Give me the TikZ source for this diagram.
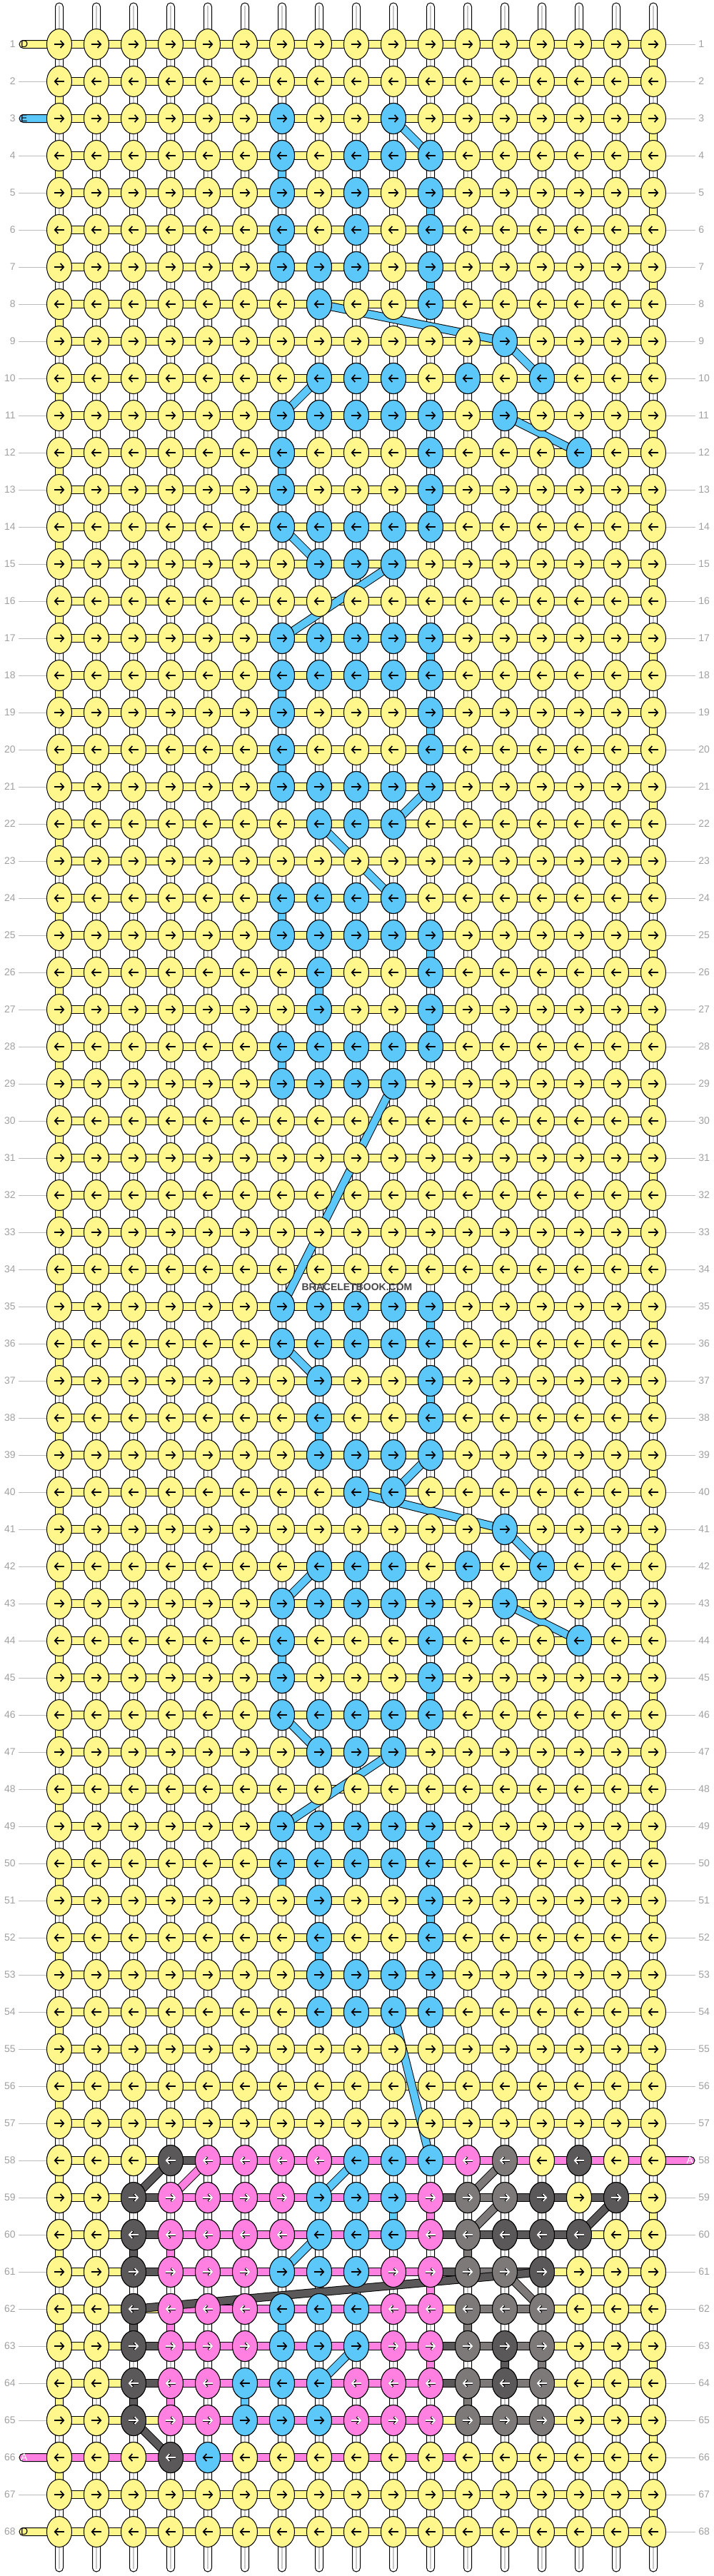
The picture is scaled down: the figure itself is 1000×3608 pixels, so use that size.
\documentclass[tikz,border=0pt]{standalone}
\usepackage{fontspec}
\setmainfont{Liberation Sans}
\usetikzlibrary{arrows.meta,shapes.geometric}

\definecolor{yarnY}{HTML}{FFF78C}
\definecolor{yarnB}{HTML}{5CC8FA}
\definecolor{yarnP}{HTML}{FF80E0}
\definecolor{yarnK}{HTML}{5A5858}
\definecolor{yarnG}{HTML}{7E7979}
\definecolor{lblgrey}{HTML}{A0A0A0}

\tikzset{
  knot/.style={ellipse, draw=black, line width=0.5pt, minimum width=17.5pt, minimum height=21.5pt, inner sep=0pt},
  wtube/.style={draw=black, fill=white, line width=0.5pt, rounded corners=2.7pt},
  wcore/.style={draw=black!22, line width=1.2pt, shorten <=2pt, shorten >=2pt},
  hbar/.style={draw=black, line width=0.5pt},
  vlink/.style={draw=black, line width=0.5pt},
  strand/.style={draw=#1, line width=5pt, preaction={draw=black, line width=6pt}},
  arrowtip/.style={line width=0.85pt, -{Straight Barb[length=2.3pt, width=5pt]}},
  tipY/.style={draw=black}, tipB/.style={draw=black},
  tipP/.style={draw=white, preaction={draw=black, line width=1.5pt}},
  tipK/.style={tipP}, tipG/.style={tipP},
  rowlbl/.style={font=\fontsize{7pt}{8pt}\selectfont, text=lblgrey, inner sep=0pt},
  lblline/.style={draw=lblgrey!70, line width=0.5pt},
  stubtxt/.style={font=\fontsize{7pt}{8pt}\selectfont, inner sep=0pt},
}

% one knot: row, column, yarn
\newcommand\knotat[3]{%
  \node[knot, fill=yarn#3] (k-#1-#2) at (p-#1-#2) {};
  \ifodd#1\relax
    \draw[arrowtip, tip#3] ([xshift=-3.7pt]k-#1-#2.center) -- ([xshift=3.7pt]k-#1-#2.center);
  \else
    \draw[arrowtip, tip#3] ([xshift=3.7pt]k-#1-#2.center) -- ([xshift=-3.7pt]k-#1-#2.center);
  \fi}

\begin{document}
\begin{tikzpicture}[x=0.5pt, y=-0.5pt]
\useasboundingbox (0,0) rectangle (1000,3608);

% grid of knot places
\foreach \r in {1,...,68}{
  \foreach \c in {1,...,17}{
    \coordinate (p-\r-\c) at ({31+52*\c},{10+52*\r});
  }
}

% row numbers
\foreach \r in {1,...,68}{
  \node[rowlbl, anchor=east] (ll-\r) at (22,{10+52*\r}) {\r};
  \node[rowlbl, anchor=west] (rl-\r) at (978,{10+52*\r}) {\r};
}
\foreach \r in {2,4,5,...,65,67}
  \draw[lblline] ([xshift=2pt]ll-\r.east) -- (p-\r-1);
\foreach \r in {1,...,57,59,60,...,68}
  \draw[lblline] (p-\r-17) -- ([xshift=-2pt]rl-\r.west);

% base strings
\foreach \c in {1,...,17}{
  \coordinate (top-\c) at ({31+52*\c},4);
  \coordinate (bot-\c) at ({31+52*\c},3602);
  \draw[wtube] ([xshift=-2.75pt]top-\c) rectangle ([xshift=2.75pt]bot-\c);
  \draw[wcore] (top-\c) -- (bot-\c);
}

% working string, row by row
\foreach \r in {1,...,68}
  \draw[hbar, fill=yarnY] ([yshift=2.75pt]p-\r-1) rectangle ([yshift=-2.75pt]p-\r-17);
\foreach \r/\a/\b/\k in {58/4/5/K, 58/5/17/P,
    59/3/4/K, 59/4/11/P, 59/11/12/K, 59/12/13/G, 59/13/16/K,
    60/3/4/K, 60/4/11/P, 60/11/15/K,
    61/3/4/K, 61/4/11/P, 61/11/12/K, 61/12/13/G, 61/13/14/K,
    62/4/11/P, 62/12/14/G,
    63/3/4/K, 63/4/11/P, 63/11/12/K, 63/12/14/G,
    64/3/4/K, 64/4/11/P, 64/11/12/K, 64/12/14/G,
    65/4/11/P, 65/12/14/G,
    66/1/12/P}
  \draw[hbar, fill=yarn\k] ([yshift=2.75pt]p-\r-\a) rectangle ([yshift=-2.75pt]p-\r-\b);

% turns at the edges
\foreach \r [evaluate=\r as \rn using int(\r+1)] in {2,4,...,66}
  \draw[vlink, fill=yarnY] ([xshift=-2.75pt]p-\r-1) rectangle ([xshift=2.75pt]p-\rn-1);
\foreach \r [evaluate=\r as \rn using int(\r+1)] in {1,3,...,67}
  \draw[vlink, fill=yarnY] ([xshift=-2.75pt]p-\r-17) rectangle ([xshift=2.75pt]p-\rn-17);

% carried strings going down
\foreach \r/\c/\k [evaluate=\r as \rn using int(\r+1)] in {4/7/B, 5/11/B, 6/7/B, 7/11/B,
    12/7/B, 13/11/B, 17/11/B, 18/7/B, 19/11/B, 20/7/B, 24/7/B, 25/11/B, 26/8/B,
    27/11/B, 28/7/B, 35/11/B, 37/11/B, 38/8/B, 44/7/B, 45/11/B,
    49/11/B, 50/7/B, 51/11/B, 52/8/B,
    59/10/B, 59/11/P, 60/3/K, 60/4/P, 60/12/G, 61/11/P, 62/3/K, 62/4/P, 62/7/B,
    62/12/G, 63/11/P, 63/13/K, 63/14/G, 64/3/K, 64/4/P, 64/6/B, 64/12/G}
  \draw[vlink, fill=yarn\k] ([xshift=-2.75pt]p-\r-\c) rectangle ([xshift=2.75pt]p-\rn-\c);

% loose ends
\foreach \r/\k/\name/\ink in {1/Y/D/black, 3/B/E/black, 66/P/A/white, 68/Y/D/black}{
  \coordinate (in-\r) at (27,{10+52*\r});
  \draw[hbar, fill=yarn\k, rounded corners=2.75pt] ([yshift=2.75pt]in-\r) rectangle ([yshift=-2.75pt]p-\r-1);
  \node[stubtxt, text=\ink, anchor=west] at ([xshift=0.8pt]in-\r) {\name};
}
\coordinate (out-58) at (973,3026);
\draw[hbar, fill=yarnP, rounded corners=2.75pt] ([yshift=2.75pt]p-58-17) rectangle ([yshift=-2.75pt]out-58);
\node[stubtxt, text=white, anchor=east] at ([xshift=-0.8pt]out-58) {A};

% strings jumping between knots
\foreach \a/\b/\k in {3-10/4-11/B, 8-8/9-13/B, 9-13/10-14/B, 10-8/11-7/B, 11-13/12-15/B,
    14-7/15-8/B, 15-10/17-7/B, 21-11/22-10/B, 22-8/24-10/B, 29-10/35-7/B, 36-7/37-8/B,
    39-11/40-10/B, 40-9/41-13/B, 41-13/42-14/B, 42-8/43-7/B, 43-13/44-15/B, 46-7/47-8/B,
    47-10/49-7/B, 54-10/58-11/B, 58-9/59-8/B, 60-8/61-7/B, 63-9/64-8/B,
    58-4/59-3/K, 59-16/60-15/K, 61-14/62-3/K, 65-3/66-4/K,
    58-5/59-4/P, 58-13/59-12/G, 59-13/60-12/G, 61-13/62-14/G}
  \draw[strand=yarn\k] (p-\a) -- (p-\b);

% knots
\foreach \r in {1,...,68}
  \foreach \c in {1,...,17}
    \knotat{\r}{\c}{Y};
\foreach \r/\cs in {3/{7,10}, 4/{7,9,10,11}, 5/{7,9,11}, 6/{7,9,11}, 7/{7,8,9,11},
    8/{8,11}, 9/{13}, 10/{8,9,10,12,14}, 11/{7,8,9,10,11,13}, 12/{7,11,15}, 13/{7,11},
    14/{7,...,11}, 15/{8,9,10}, 17/{7,...,11}, 18/{7,...,11}, 19/{7,11}, 20/{7,11},
    21/{7,...,11}, 22/{8,9,10}, 24/{7,...,10}, 25/{7,...,11}, 26/{8,11}, 27/{8,11},
    28/{7,...,11}, 29/{7,...,10}, 35/{7,...,11}, 36/{7,...,11}, 37/{8,11}, 38/{8,11},
    39/{8,...,11}, 40/{9,10}, 41/{13}, 42/{8,9,10,12,14}, 43/{7,8,9,10,11,13},
    44/{7,11,15}, 45/{7,11}, 46/{7,...,11}, 47/{8,9,10}, 49/{7,...,11}, 50/{7,...,11},
    51/{8,11}, 52/{8,11}, 53/{8,...,11}, 54/{8,...,11}}
  \foreach \c in \cs
    \knotat{\r}{\c}{B};
\foreach \r/\row in {
    58/{Y,Y,Y,K,P,P,P,P,B,B,B,P,G,Y,K,Y,Y},
    59/{Y,Y,K,P,P,P,P,B,B,B,P,G,G,K,Y,K,Y},
    60/{Y,Y,K,P,P,P,P,B,B,B,P,G,K,K,K,Y,Y},
    61/{Y,Y,K,P,P,P,B,B,B,P,P,G,G,K,Y,Y,Y},
    62/{Y,Y,K,P,P,P,B,B,B,P,P,G,G,G,Y,Y,Y},
    63/{Y,Y,K,P,P,P,B,B,B,P,P,G,K,G,Y,Y,Y},
    64/{Y,Y,K,P,P,B,B,B,P,P,P,G,K,G,Y,Y,Y},
    65/{Y,Y,K,P,P,B,B,B,P,P,P,G,G,G,Y,Y,Y},
    66/{Y,Y,Y,K,B,Y,Y,Y,Y,Y,Y,Y,Y,Y,Y,Y,Y}}
  \foreach \k [count=\c] in \row
    \knotat{\r}{\c}{\k};

\node[font=\bfseries\fontsize{7pt}{8pt}\selectfont, text=black!72] (mark) at (500,1803) {BRACELETBOOK.COM};
\end{tikzpicture}
\end{document}
